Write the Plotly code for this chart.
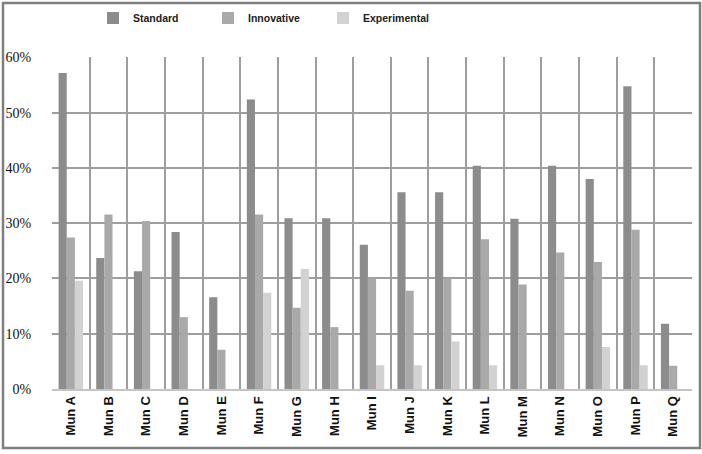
import plotly.graph_objects as go

# Municipality categories and share of each approach
municipalities = ["Mun A", "Mun B", "Mun C", "Mun D", "Mun E", "Mun F", "Mun G",
                  "Mun H", "Mun I", "Mun J", "Mun K", "Mun L", "Mun M", "Mun N",
                  "Mun O", "Mun P", "Mun Q"]

standard = [0.572, 0.237, 0.213, 0.284, 0.166, 0.524, 0.309, 0.309, 0.261,
            0.356, 0.356, 0.404, 0.308, 0.404, 0.380, 0.548, 0.118]
innovative = [0.274, 0.316, 0.304, 0.130, 0.071, 0.316, 0.147, 0.112, 0.200,
              0.178, 0.200, 0.271, 0.189, 0.247, 0.230, 0.288, 0.042]
experimental = [0.196, 0, 0, 0, 0, 0.174, 0.217, 0, 0.043,
                0.043, 0.086, 0.043, 0, 0, 0.076, 0.043, 0]

series = [
    ("Standard", standard, "#8c8c8c"),
    ("Innovative", innovative, "#a9a9a9"),
    ("Experimental", experimental, "#d2d2d2"),
]

fig = go.Figure()
for name, values, color in series:
    fig.add_trace(go.Bar(
        name=name, x=municipalities, y=values,
        marker=dict(color=color, line=dict(width=0)),
    ))

# plot-area geometry in pixels, used to place the outer frame
W, H = 702, 454
L, R, T, B = 52, 10, 57, 65
pw, ph = W - L - R, H - T - B

def px_x(x):
    return (x - L) / pw

def px_y(y):
    return (H - B - y) / ph

fig.update_layout(
    width=W, height=H,
    margin=dict(l=L, r=R, t=T, b=B, pad=0, autoexpand=False),
    paper_bgcolor="white", plot_bgcolor="white",
    barmode="group", bargap=0.35, bargroupgap=0,
    showlegend=True,
    legend=dict(
        orientation="h",
        xref="container", x=93 / W, xanchor="left",
        yref="container", y=1 - 18 / H, yanchor="middle",
        font=dict(family="Liberation Sans", size=10.5, color="#222222", weight="bold"),
        entrywidth=70, entrywidthmode="pixels",
        itemsizing="constant", bgcolor="rgba(0,0,0,0)",
    ),
    xaxis=dict(
        type="category", tickson="boundaries",
        showgrid=True, gridcolor="#9e9e9e", gridwidth=1.5,
        showline=True, linecolor="#c4c4c4", linewidth=2,
        ticks="outside", ticklen=9, tickcolor="rgba(0,0,0,0)",
        tickangle=-90,
        tickfont=dict(family="Liberation Sans", size=13, color="#111111", weight="bold"),
        range=[-0.5, 16.5],
    ),
    yaxis=dict(
        range=[0, 0.6008], dtick=0.1, tickformat=".0%",
        showgrid=True, gridcolor="#9e9e9e", gridwidth=1.5,
        zeroline=False,
        ticks="outside", ticklen=17, tickcolor="rgba(0,0,0,0)",
        tickfont=dict(family="Liberation Serif", size=14, color="#111111"),
    ),
    shapes=[dict(
        type="rect", xref="paper", yref="paper",
        x0=px_x(3), x1=px_x(700), y0=px_y(448), y1=px_y(3),
        line=dict(color="#7f7f7f", width=2.5), fillcolor="rgba(0,0,0,0)",
        layer="below",
    )],
)

fig.write_html("out.html")
